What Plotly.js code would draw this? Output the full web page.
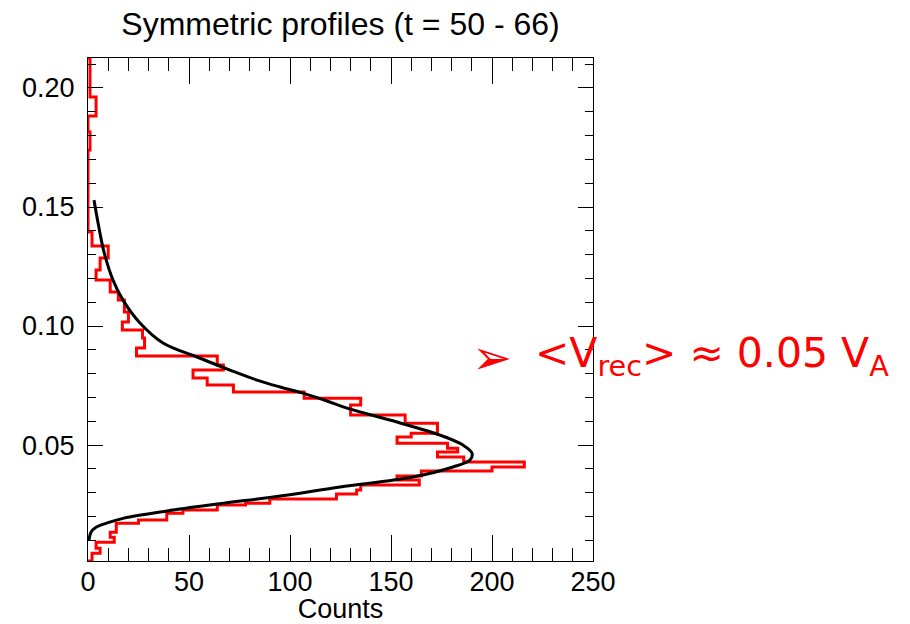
<!DOCTYPE html>
<html>
<head>
<meta charset="utf-8">
<script src="https://cdn.plot.ly/plotly-3.0.1.min.js"></script>
<style>html,body{margin:0;padding:0;background:#fff;}#chart{width:910px;height:624px;}</style>
</head>
<body>
<div id="chart"></div>
<script>
// Histogram bin edges (velocity, top to bottom) and counts for each bin
const binEdges = [0.2126, 0.1962, 0.1882, 0.1815, 0.1740, 0.1395, 0.1336, 0.1286, 0.1235, 0.1193,
  0.1143, 0.1109, 0.1059, 0.1017, 0.0983, 0.0950, 0.0908, 0.0874, 0.0836, 0.0815,
  0.0782, 0.0752, 0.0723, 0.0697, 0.0668, 0.0626, 0.0592, 0.0550, 0.0534, 0.0508,
  0.0487, 0.0471, 0.0450, 0.0429, 0.0408, 0.0391, 0.0370, 0.0353, 0.0332, 0.0311,
  0.0294, 0.0273, 0.0256, 0.0248, 0.0227, 0.0214, 0.0185, 0.0172, 0.0134, 0.0113,
  0.0092, 0.0067, 0.0046, 0.0013];
const binCounts = [1, 4, 0, 1, 0, 2, 10, 6, 4, 11,
  15, 18, 20, 17, 27, 28, 24, 64, 67, 52,
  59, 72, 107, 135, 130, 157, 173, 160, 153, 178,
  183, 173, 186, 216, 200, 165, 153, 164, 135, 133,
  123, 90, 78, 64, 47, 39, 25, 14, 11, 13,
  4, 6, 2];

// Fitted curve (counts, velocity)
const fitCounts = [2.97, 5.45, 7.92, 12.38, 17.33, 25.74, 37.13, 53.96, 70.30, 83.66,
  95.05, 106.44, 118.32, 128.22, 152.97, 174.26, 185.64, 190.10, 189.11, 180.69,
  160.89, 124.75, 97.03, 63.86, 39.11, 17.82, 9.90, 3.96, 1.49, 0.50];
const fitVel = [0.1529, 0.1412, 0.1311, 0.1193, 0.1109, 0.1013, 0.0929, 0.0870, 0.0815, 0.0773,
  0.0744, 0.0718, 0.0685, 0.0655, 0.0597, 0.0542, 0.0500, 0.0466, 0.0437, 0.0408,
  0.0366, 0.0324, 0.0288, 0.0252, 0.0223, 0.0193, 0.0174, 0.0155, 0.0134, 0.0101];

const titleText = 'Symmetric profiles (t = 50 - 66)';
const xTitle = 'Counts';
const noteText = '&lt;V<sub>rec</sub>&gt; ≈ 0.05 V<sub>A</sub>';

// Build step outline
const hx = [0], hy = [binEdges[0]];
for (let i = 0; i < binCounts.length; i++) {
  hx.push(binCounts[i]); hy.push(binEdges[i]);
  hx.push(binCounts[i]); hy.push(binEdges[i + 1]);
}
hx.push(0); hy.push(binEdges[binEdges.length - 1]);

const traces = [
  {x: hx, y: hy, type: 'scatter', mode: 'lines', line: {color: '#ff0000', width: 3}, hoverinfo: 'skip'},
  {x: fitCounts, y: fitVel, type: 'scatter', mode: 'lines', line: {color: '#000000', width: 3, shape: 'spline', smoothing: 1}, hoverinfo: 'skip'}
];

const axFont = {family: 'Liberation Sans, Arial, sans-serif', size: 27, color: '#000'};
const layout = {
  width: 910, height: 624,
  margin: {l: 88, r: 317, t: 58, b: 63, pad: 0},
  paper_bgcolor: '#fff', plot_bgcolor: '#fff',
  showlegend: false,
  font: axFont,
  title: {text: titleText, font: {family: 'Liberation Sans, Arial, sans-serif', size: 32, color: '#000'},
    x: 0.5, xref: 'paper', xanchor: 'center', y: 0.962, yref: 'container', yanchor: 'middle'},
  xaxis: {
    range: [0, 250], autorange: false, tick0: 0, dtick: 50,
    ticks: 'inside', ticklen: 26, tickwidth: 1, tickcolor: '#000',
    minor: {ticks: 'inside', dtick: 10, ticklen: 13, tickwidth: 1, tickcolor: '#000'},
    showline: true, linecolor: '#000', linewidth: 1, mirror: 'ticks',
    showgrid: false, zeroline: false,
    tickfont: axFont, ticklabelstandoff: -3,
    title: {text: xTitle, font: axFont, standoff: 10}
  },
  yaxis: {
    range: [0.0013, 0.2126], autorange: false, tick0: 0, dtick: 0.05, tickformat: '.2f',
    ticks: 'inside', ticklen: 15, tickwidth: 1, tickcolor: '#000',
    minor: {ticks: 'inside', dtick: 0.01, ticklen: 8, tickwidth: 1, tickcolor: '#000'},
    showline: true, linecolor: '#000', linewidth: 1, mirror: 'ticks',
    showgrid: false, zeroline: false,
    tickfont: axFont, ticklabelstandoff: 7
  },
  annotations: [
    {text: '➢', xref: 'paper', yref: 'paper', x: 0.800, y: 0.4056, xanchor: 'center', yanchor: 'middle',
      showarrow: false, font: {family: 'DejaVu Sans', size: 48, color: '#ff0000'}},
    {text: noteText, xref: 'paper', yref: 'paper', x: 0.881, y: 0.4075, xanchor: 'left', yanchor: 'middle',
      showarrow: false, font: {family: 'DejaVu Sans, sans-serif', size: 41, color: '#ff0000'}}
  ]
};

Plotly.newPlot('chart', traces, layout, {displayModeBar: false, staticPlot: true});
</script>
</body>
</html>
